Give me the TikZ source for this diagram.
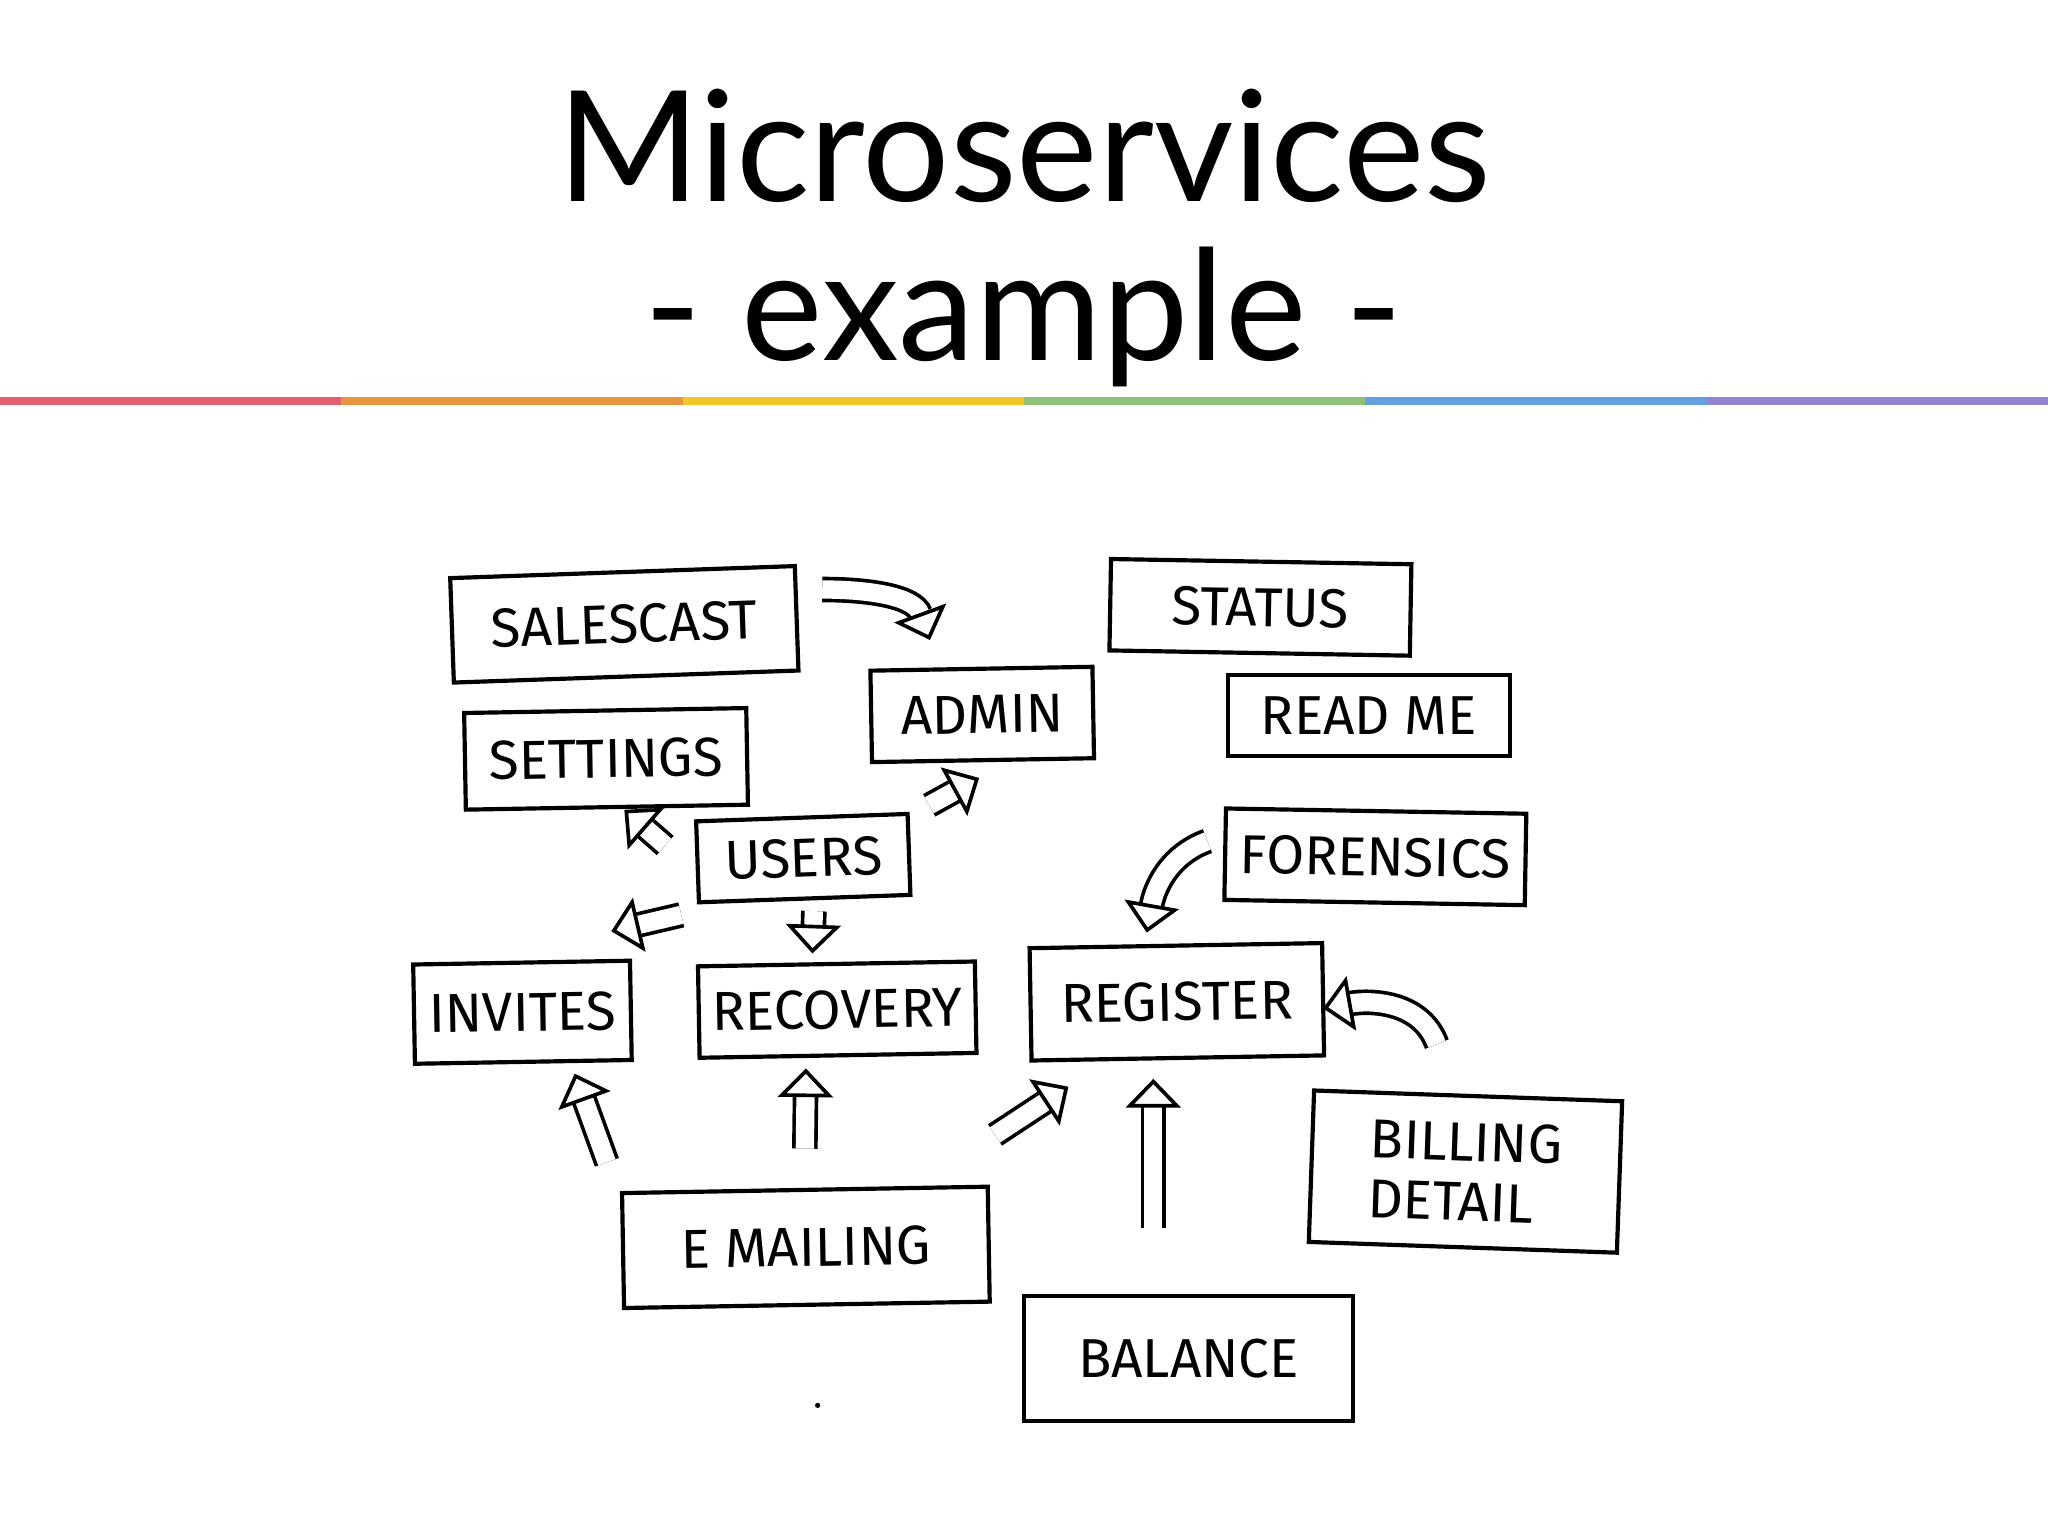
\documentclass[tikz,border=0pt]{standalone}
\usepackage{fontspec}
\setmainfont{Lato}
\setsansfont{Fira Sans}
\usetikzlibrary{arrows.meta,calc}
\begin{document}
\begin{tikzpicture}[x=0.5pt,y=-0.5pt,
  box/.style={draw,line width=1.6pt,inner sep=0pt,font=\sffamily\fontsize{21}{23}\selectfont,align=left},
  blk/.style={double=white,double distance=7pt,line width=1.4pt,-{Triangle[open,length=11pt,width=21pt,line width=1.4pt]}}]
\useasboundingbox[fill=white] (0,0) rectangle (1568,1176);
\node[font=\fontsize{59}{60}\selectfont] (t1) at (784,112) {Microservices};
\node[font=\fontsize{59}{60}\selectfont] (t2) at (784,243) {- example -};
\foreach \c/\i in {{225,95,110}/0,{230,150,60}/1,{240,200,40}/2,{140,195,120}/3,{100,160,225}/4,{150,130,210}/5}{
  \definecolor{seg}{RGB}{\c}
  \fill[seg] (\i*261.33,304) rectangle (\i*261.33+261.33,310);}
\node[box,minimum width=132pt,minimum height=40pt,rotate=2] (sal) at (478,478) {SALESCAST};
\node[box,minimum width=115pt,minimum height=35pt,rotate=-1] (sta) at (965,465) {STATUS};
\node[box,minimum width=85pt,minimum height=35pt,rotate=1] (adm) at (752,547) {ADMIN};
\node[box,minimum width=108pt,minimum height=31pt] (rea) at (1048,548) {READ ME};
\node[box,minimum width=108pt,minimum height=37pt,rotate=1] (set) at (464,581) {SETTINGS};
\node[box,minimum width=81pt,minimum height=31pt,rotate=2] (use) at (615,657) {USERS};
\node[box,minimum width=115pt,minimum height=35pt,rotate=-1] (for) at (1053,656) {FORENSICS};
\node[box,minimum width=83pt,minimum height=38pt,rotate=1] (inv) at (400,775) {INVITES};
\node[box,minimum width=106pt,minimum height=35pt,rotate=1] (rec) at (641,773) {RECOVERY};
\node[box,minimum width=112pt,minimum height=43pt,rotate=1] (reg) at (901,767) {REGISTER};
\node[box,minimum width=118pt,minimum height=58pt,rotate=-2,align=left] (bil) at (1122,897) {BILLING\\DETAIL};
\node[box,minimum width=140pt,minimum height=44pt,rotate=1] (ema) at (617,955) {E MAILING};
\node[box,minimum width=126pt,minimum height=48pt] (bal) at (910,1040) {BALANCE};
\draw[blk] (sal.east) ++(18,-22) to[out=0,in=110] (712,490);
\draw[blk] (use.north east) ++(15,-5) -- ($(adm.south)+(-3,12)$);
\draw[blk] (use.north west) ++(-22,20) -- (478,620);
\draw[blk] (use.south west) ++(-12,8) -- (468,713);
\draw[blk] (use.south) ++(7,8) -- (622,730);
\draw[blk] (for.west) ++(-12,-10) to[out=200,in=80] (878,714);
\draw[blk] (bil.north) ++(-24,-38) to[out=110,in=10] (1013,772);
\draw[blk] (ema.north west) ++(-10,-22) -- (440,822);
\draw[blk] (ema.north) ++(0,-30) -- (617,818);
\draw[blk] (ema.north east) ++(4,-38) -- (818,832);
\draw[blk] (bal.north) ++(-27,-50) -- (883,826);
\fill (626,1076) circle (2);
\end{tikzpicture}
\end{document}
